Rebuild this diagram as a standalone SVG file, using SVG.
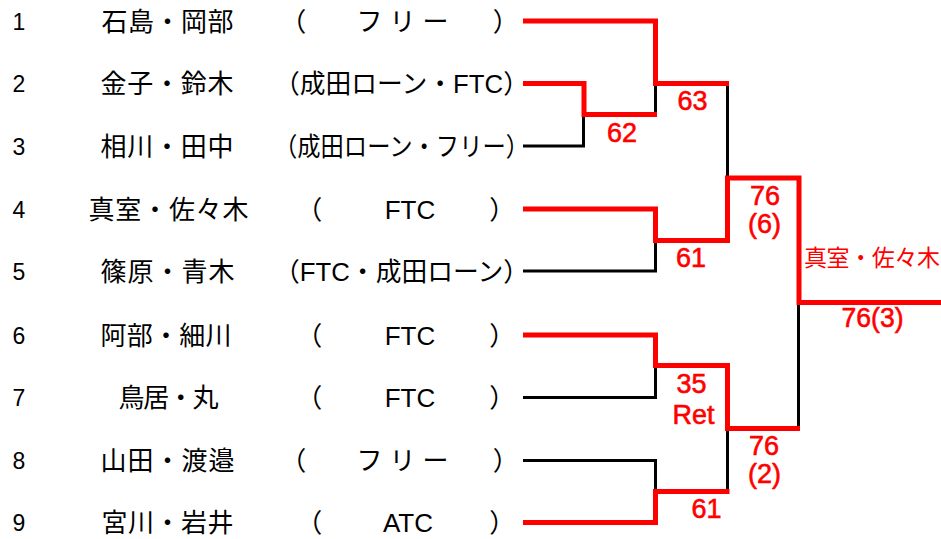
<svg xmlns="http://www.w3.org/2000/svg" width="941" height="539" viewBox="0 0 941 539">
<style>
.num{font-family:"Liberation Sans",Arial,sans-serif;font-size:23px;fill:#000;text-anchor:middle}
.name{font-family:"Noto Sans CJK JP",sans-serif;font-size:26px;fill:#000;text-anchor:middle}
.team{font-family:"Liberation Sans","Noto Sans CJK JP",sans-serif;font-size:26px;fill:#000}
.mid{text-anchor:middle}
.score{font-family:"Liberation Sans",Arial,sans-serif;font-size:27px;fill:#FF0000;stroke:#FF0000;stroke-width:0.6;text-anchor:middle}
.win{font-family:"Noto Sans CJK JP",sans-serif;font-size:23px;fill:#FF0000}
.red{stroke:#FF0000;stroke-width:5;fill:none;stroke-linejoin:miter}
.blk{stroke:#000;stroke-width:3;fill:none}
</style>
<rect width="941" height="539" fill="#fff"/>
<g id="entry1">
<text class="num" x="19" y="29.5">1</text>
<text class="name" x="167.5" y="30.5" textLength="132" lengthAdjust="spacing">石島・岡部</text>
<text class="team" x="280.3" y="30.5">（</text>
<text class="team mid" x="402.5" y="30.5" textLength="92" lengthAdjust="spacing">フリー</text>
<text class="team" x="492.7" y="30.5">）</text>
</g>
<g id="entry2">
<text class="num" x="19" y="92">2</text>
<text class="name" x="167" y="93" textLength="133" lengthAdjust="spacing">金子・鈴木</text>
<text class="team" x="274" y="93" textLength="255" lengthAdjust="spacingAndGlyphs">（成田ローン・FTC）</text>
</g>
<g id="entry3">
<text class="num" x="19" y="154.5">3</text>
<text class="name" x="167" y="155.5" textLength="133" lengthAdjust="spacing">相川・田中</text>
<text class="team" x="274" y="155.5" textLength="255" lengthAdjust="spacingAndGlyphs">（成田ローン・フリー）</text>
</g>
<g id="entry4">
<text class="num" x="19" y="217.5">4</text>
<text class="name" x="168.5" y="218.5" textLength="160" lengthAdjust="spacing">真室・佐々木</text>
<text class="team" x="296.3" y="218.5">（</text>
<text class="team mid" x="410" y="218.5">FTC</text>
<text class="team" x="489.2" y="218.5">）</text>
</g>
<g id="entry5">
<text class="num" x="19" y="279.5">5</text>
<text class="name" x="167.5" y="280.5" textLength="134" lengthAdjust="spacing">篠原・青木</text>
<text class="team" x="274" y="280.5" textLength="255" lengthAdjust="spacingAndGlyphs">（FTC・成田ローン）</text>
</g>
<g id="entry6">
<text class="num" x="19" y="343.5">6</text>
<text class="name" x="166" y="344.5" textLength="131" lengthAdjust="spacing">阿部・細川</text>
<text class="team" x="296.3" y="344.5">（</text>
<text class="team mid" x="410" y="344.5">FTC</text>
<text class="team" x="489.2" y="344.5">）</text>
</g>
<g id="entry7">
<text class="num" x="19" y="406">7</text>
<text class="name" x="168.5" y="407" textLength="100" lengthAdjust="spacing">鳥居・丸</text>
<text class="team" x="296.3" y="407">（</text>
<text class="team mid" x="410" y="407">FTC</text>
<text class="team" x="489.2" y="407">）</text>
</g>
<g id="entry8">
<text class="num" x="19" y="469">8</text>
<text class="name" x="167.5" y="470" textLength="134" lengthAdjust="spacing">山田・渡邉</text>
<text class="team" x="280.3" y="470">（</text>
<text class="team mid" x="402.5" y="470" textLength="92" lengthAdjust="spacing">フリー</text>
<text class="team" x="492.7" y="470">）</text>
</g>
<g id="entry9">
<text class="num" x="19" y="531">9</text>
<text class="name" x="167.5" y="532" textLength="132" lengthAdjust="spacing">宮川・岩井</text>
<text class="team" x="296.3" y="532">（</text>
<text class="team mid" x="408" y="532">ATC</text>
<text class="team" x="489.2" y="532">）</text>
</g>
<g id="connectors">
<path class="blk" d="M523,146 H583.5 V114.5"/>
<path class="blk" d="M655.5,83.5 V114.5"/>
<path class="blk" d="M523,271 H655.5 V240.5"/>
<path class="blk" d="M727.5,83.5 V178"/>
<path class="blk" d="M523,397.5 H655.5 V365.5"/>
<path class="blk" d="M523,460.5 H655.5 V491.5"/>
<path class="blk" d="M727.5,428.5 V491.5"/>
<path class="blk" d="M798.5,302.5 V428.5"/>
<path class="red" d="M523,21 H655.5 V83.5 H729"/>
<path class="red" d="M523,83.5 H584 V114.5 H657"/>
<path class="red" d="M523,209 H655.5 V240.5 H727.5 V178 H799 V302.5 H941"/>
<path class="red" d="M523,335 H655.5 V365.5 H727.5 V428.5 H800"/>
<path class="red" d="M523,522.5 H655.5 V491.5 H729.5"/>
</g>
<g id="scores">
<text class="score" x="622" y="141.5">62</text>
<text class="score" x="692.5" y="110">63</text>
<text class="score" x="691" y="267">61</text>
<text class="score" x="765" y="205">76</text>
<text class="score" x="764.5" y="233">(6)</text>
<text class="win" x="804" y="265.5" textLength="136" lengthAdjust="spacing">真室・佐々木</text>
<text class="score" x="872.5" y="326.5" textLength="62" lengthAdjust="spacingAndGlyphs">76(3)</text>
<text class="score" x="691.5" y="393">35</text>
<text class="score" x="693.5" y="424">Ret</text>
<text class="score" x="706.5" y="518">61</text>
<text class="score" x="764" y="455">76</text>
<text class="score" x="764.5" y="483">(2)</text>
</g>
</svg>
